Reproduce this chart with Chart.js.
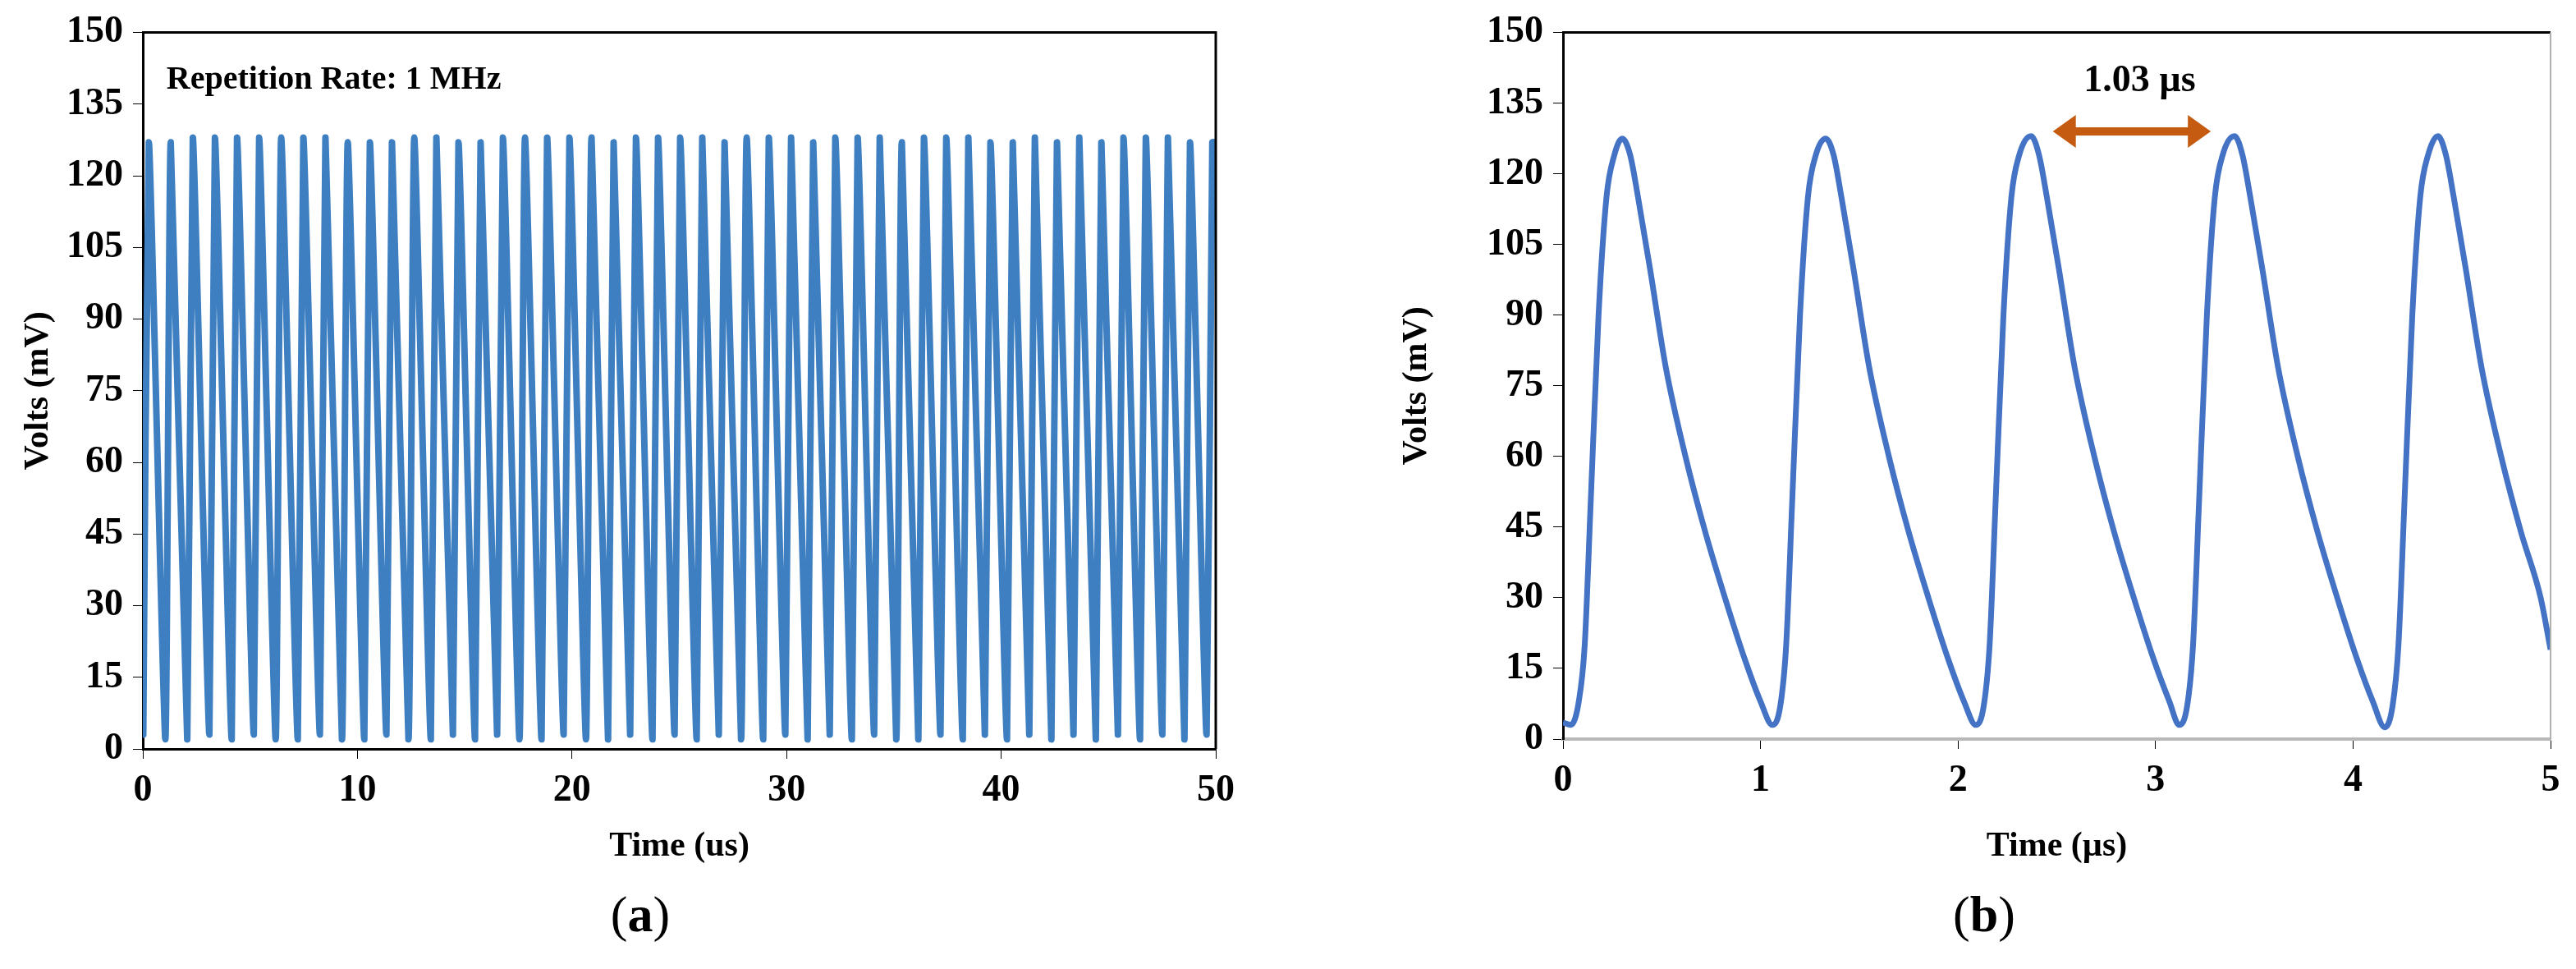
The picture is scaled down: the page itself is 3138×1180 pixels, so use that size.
<!DOCTYPE html>
<html><head><meta charset="utf-8">
<script src="https://cdn.jsdelivr.net/npm/chart.js@4"></script>
<style>
body{margin:0;background:#fff;width:3138px;height:1180px;position:relative;overflow:hidden;font-family:"Liberation Serif",serif}
.box{position:absolute;top:0;width:1569px;height:1060px}
.cap{position:absolute;top:1078px;font-size:62px;width:200px;text-align:center}
</style></head><body>
<div class="box" style="left:0"><canvas id="ca" width="1569" height="1060"></canvas></div>
<div class="box" style="left:1569px"><canvas id="cb" width="1569" height="1060"></canvas></div>
<div class="cap" style="left:680px">(<b>a</b>)</div>
<div class="cap" style="left:2317px">(<b>b</b>)</div>
<script>
// (a) pulse train, 0-50 us: peak / trough readings
const aPeakT=[0.28,1.30,2.33,3.36,4.39,5.42,6.45,7.48,8.51,9.55,10.58,11.61,12.65,13.68,14.71,15.74,16.78,17.81,18.84,19.88,20.91,21.94,22.98,24.01,25.04,26.07,27.11,28.14,29.17,30.21,31.24,32.27,33.31,34.34,35.37,36.40,37.44,38.47,39.50,40.54,41.57,42.60,43.64,44.67,45.70,46.74,47.77,48.80,49.84];
const aPeakV=[127,127,128,128,128,128,128,128,128,127,127,127,128,128,127,127,128,128,128,128,128,127,128,128,128,128,127,128,128,128,127,128,128,128,127,128,128,128,127,127,128,127,128,127,128,128,128,127,127];
const aTroughT=[0.02,1.05,2.07,3.10,4.14,5.17,6.19,7.22,8.25,9.28,10.32,11.35,12.38,13.42,14.45,15.48,16.51,17.55,18.58,19.61,20.65,21.68,22.71,23.75,24.78,25.81,26.84,27.88,28.91,29.94,30.98,32.01,33.04,34.08,35.11,36.14,37.17,38.21,39.24,40.27,41.31,42.34,43.37,44.41,45.44,46.47,47.51,48.54,49.57];
const aTroughV=[3,2,2,3,2,3,2,2,3,2,2,3,2,2,3,2,3,2,2,3,2,2,3,2,3,2,3,2,2,3,2,3,2,3,2,2,3,2,3,2,3,2,3,2,3,2,3,2,3];
// (b) zoom 0-5 us
const bT=[0,0.04,0.08,0.11,0.14,0.18,0.22,0.26,0.30,0.34,0.38,0.44,0.52,0.62,0.72,0.82,0.92,1.0,1.06,
1.10,1.13,1.16,1.20,1.24,1.28,1.33,1.37,1.41,1.47,1.55,1.65,1.75,1.85,1.95,2.03,2.09,
2.13,2.16,2.19,2.23,2.27,2.31,2.37,2.41,2.45,2.51,2.59,2.69,2.79,2.89,2.99,3.07,3.12,
3.16,3.19,3.22,3.26,3.30,3.34,3.40,3.44,3.48,3.54,3.62,3.72,3.82,3.92,4.02,4.10,4.16,
4.20,4.23,4.26,4.30,4.34,4.38,4.43,4.47,4.51,4.57,4.65,4.75,4.85,4.95,5.0];
const bV=[3.5,3,8,20,50,90,115,124,127.5,124,115,100,79,60,44,30,17,8,3,
7,20,50,90,115,124,127.5,124,115,100,79,60,44,30,17,8,3,
7,20,50,90,115,124,128,124,115,100,79,60,44,30,17,8,3,
7,20,50,90,115,124,128,124,115,100,79,60,44,30,17,8,2.5,
7,20,50,90,115,124,128,124,115,100,79,60,44,30,19];
const yTicks=[0,15,30,45,60,75,90,105,120,135,150];

const aPts=[];
aPeakT.forEach((t,i)=>{aPts.push({x:aTroughT[i],y:aTroughV[i]});aPts.push({x:t,y:aPeakV[i]});});
aPts.push({x:50,y:127});
const bPts=bT.map((t,i)=>({x:t,y:bV[i]}));

const F="'Liberation Serif', serif";
function axes(xmax,xstep,xtitle,yw,xh,xborder,xbw){
  return {
    x:{type:'linear',min:0,max:xmax,
      ticks:{stepSize:xstep,color:'#000',font:{family:F,size:46,weight:'bold'},padding:12,maxRotation:0},
      grid:{drawOnChartArea:false,drawTicks:true,tickLength:12,color:'#000'},
      border:{color:xborder,width:xbw},
      title:{display:true,text:xtitle,color:'#000',font:{family:F,size:42,weight:'bold'},padding:{top:4}},
      afterFit:s=>{s.height=xh;}},
    y:{min:0,max:150,afterBuildTicks:s=>{s.ticks=yTicks.map(v=>({value:v}));},
      ticks:{color:'#000',font:{family:F,size:46,weight:'bold'},padding:12},
      grid:{drawOnChartArea:false,drawTicks:true,tickLength:12,color:'#000'},
      border:{color:'#000',width:3},
      title:{display:true,text:'Volts (mV)',color:'#000',font:{family:F,size:42,weight:'bold'},padding:{bottom:0}},
      afterFit:s=>{s.width=yw;}}
  };
}

const boxA={id:'boxA',afterDraw(c){const a=c.chartArea,g=c.ctx;g.save();g.strokeStyle='#000';g.lineWidth=3;
  g.beginPath();g.moveTo(a.left,a.top);g.lineTo(a.right,a.top);g.lineTo(a.right,a.bottom);g.stroke();
  g.fillStyle='#000';g.font="bold 40px "+F;g.textBaseline='middle';
  g.fillText('Repetition Rate: 1 MHz',c.scales.x.getPixelForValue(1.1),c.scales.y.getPixelForValue(140));g.restore();}};

const boxB={id:'boxB',afterDraw(c){const a=c.chartArea,g=c.ctx,x=c.scales.x,y=c.scales.y;g.save();
  g.strokeStyle='#000';g.lineWidth=3;g.beginPath();g.moveTo(a.left,a.top);g.lineTo(a.right,a.top);g.stroke();
  g.strokeStyle='#b0b0b0';g.lineWidth=2;g.beginPath();g.moveTo(a.right,a.top);g.lineTo(a.right,a.bottom);g.stroke();
  // double arrow
  const x1=x.getPixelForValue(2.48),x2=x.getPixelForValue(3.28),yy=y.getPixelForValue(129);
  g.fillStyle='#c55a11';g.fillRect(x1+20,yy-5,x2-x1-40,10);
  g.beginPath();g.moveTo(x1,yy);g.lineTo(x1+28,yy-20);g.lineTo(x1+28,yy+20);g.closePath();g.fill();
  g.beginPath();g.moveTo(x2,yy);g.lineTo(x2-28,yy-20);g.lineTo(x2-28,yy+20);g.closePath();g.fill();
  g.fillStyle='#000';g.font="bold 46px "+F;g.textAlign='center';g.textBaseline='middle';
  g.fillText('1.03 µs',x.getPixelForValue(2.92),y.getPixelForValue(139.6));g.restore();}};

new Chart(document.getElementById('ca'),{type:'line',
  data:{datasets:[{data:aPts,borderColor:'#3d7fc1',borderWidth:8,pointRadius:0,tension:0.15,borderJoinStyle:'round',borderCapStyle:'round'}]},
  options:{responsive:false,animation:false,devicePixelRatio:1,
    layout:{padding:{left:18,right:88,top:34,bottom:0}},
    plugins:{legend:{display:false},tooltip:{enabled:false}},
    scales:axes(50,10,'Time (us)',156,148,'#000',3)},
  plugins:[boxA]});

new Chart(document.getElementById('cb'),{type:'line',
  data:{datasets:[{data:bPts,borderColor:'#4472c4',borderWidth:7,pointRadius:0,cubicInterpolationMode:'monotone',borderJoinStyle:'round'}]},
  options:{responsive:false,animation:false,devicePixelRatio:1,
    layout:{padding:{left:128,right:31,top:39,bottom:0}},
    plugins:{legend:{display:false},tooltip:{enabled:false}},
    scales:axes(5,1,'Time (µs)',207,160,'#b8b8b8',4)},
  plugins:[boxB]});
</script>
</body></html>
